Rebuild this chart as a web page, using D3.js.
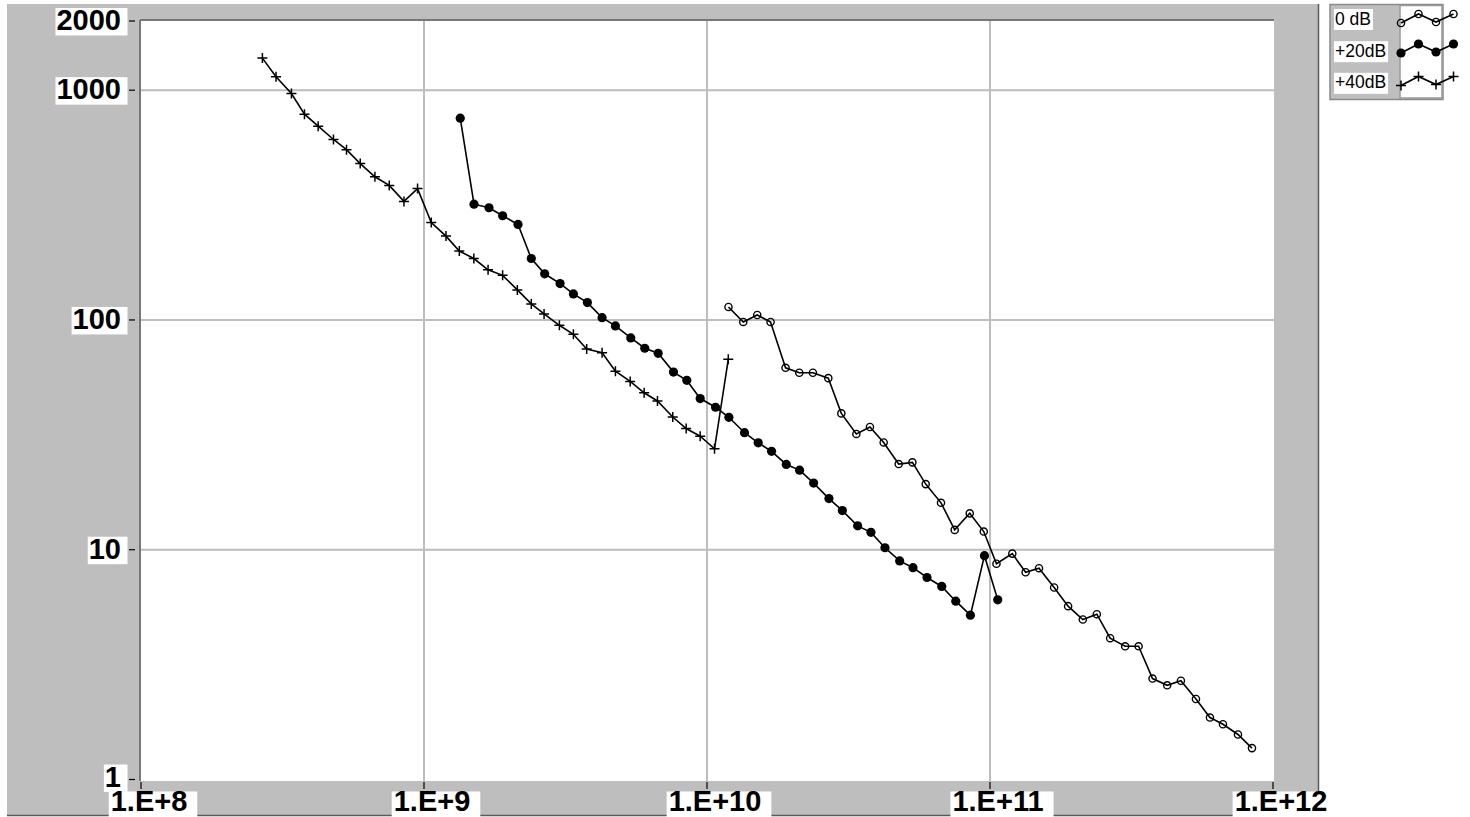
<!DOCTYPE html>
<html><head><meta charset="utf-8">
<script src="https://cdn.jsdelivr.net/npm/d3@7"></script>
<style>
html,body{margin:0;padding:0;background:#fff;}
svg{display:block;font-family:"Liberation Sans",Arial,Helvetica,sans-serif;}
</style>
</head><body>
<svg id="chart" width="1470" height="817"></svg>
<script>
// ---------- data ----------
const seriesNames = ["0 dB", "+20dB", "+40dB"];
const xTickValues = [1e8, 1e9, 1e10, 1e11, 1e12];
const xTickLabels = ["1.E+8", "1.E+9", "1.E+10", "1.E+11", "1.E+12"];
const yTickValues = [1, 10, 100, 1000, 2000];
const yTickLabels = ["1", "10", "100", "1000", "2000"];

const x0dB = [1.191e10, 1.343e10, 1.505e10, 1.677e10, 1.895e10, 2.119e10, 2.367e10, 2.683e10, 2.983e10, 3.371e10,
  3.765e10, 4.210e10, 4.757e10, 5.318e10, 5.927e10, 6.712e10, 7.504e10, 8.480e10, 9.504e10, 1.054e11,
  1.199e11, 1.336e11, 1.490e11, 1.685e11, 1.888e11, 2.128e11, 2.385e11, 2.658e11, 3.003e11, 3.350e11,
  3.753e11, 4.227e11, 4.727e11, 5.342e11, 5.987e11, 6.656e11, 7.520e11, 8.428e11];
const y0dB = [113.9, 98.0, 105.1, 98.0, 61.9, 58.9, 58.9, 55.8, 39.2, 31.9,
  34.2, 29.3, 23.6, 24.0, 19.3, 16.0, 12.2, 14.4, 12.0, 8.69,
  9.62, 7.98, 8.31, 6.85, 5.68, 4.97, 5.24, 4.12, 3.80, 3.80,
  2.75, 2.57, 2.69, 2.24, 1.86, 1.74, 1.57, 1.37];

const x20dB = [1.343e9, 1.502e9, 1.697e9, 1.896e9, 2.149e9, 2.394e9, 2.669e9, 3.026e9, 3.372e9, 3.779e9,
  4.259e9, 4.747e9, 5.379e9, 6.026e9, 6.721e9, 7.612e9, 8.484e9, 9.460e9, 1.072e10, 1.195e10,
  1.357e10, 1.517e10, 1.691e10, 1.906e10, 2.124e10, 2.381e10, 2.697e10, 3.008e10, 3.406e10, 3.796e10,
  4.255e10, 4.796e10, 5.345e10, 5.990e10, 6.752e10, 7.568e10, 8.527e10, 9.559e10, 1.065e11];
const y20dB = [755, 318.9, 307.8, 284.1, 260.4, 185.1, 158.8, 144.0, 129.8, 119.0,
  102.3, 94.2, 83.5, 75.3, 71.6, 59.3, 54.6, 45.5, 41.7, 37.7,
  32.3, 29.2, 26.8, 23.5, 22.2, 19.5, 16.7, 14.8, 12.7, 11.9,
  10.2, 8.94, 8.35, 7.57, 6.92, 5.97, 5.19, 9.42, 6.05];

const x40dB = [2.685e8, 3.00e8, 3.401e8, 3.781e8, 4.227e8, 4.787e8, 5.323e8, 5.952e8, 6.708e8, 7.537e8,
  8.495e8, 9.489e8, 1.061e9, 1.196e9, 1.333e9, 1.500e9, 1.684e9, 1.896e9, 2.137e9, 2.394e9,
  2.656e9, 3.009e9, 3.372e9, 3.757e9, 4.259e9, 4.747e9, 5.353e9, 5.996e9, 6.683e9, 7.568e9,
  8.442e9, 9.460e9, 1.063e10, 1.189e10];
const y40dB = [1379, 1144, 967, 786, 697, 610, 551, 479, 420, 385,
  328, 373, 265.4, 231.7, 199.5, 185.1, 165.2, 156.4, 135.1, 117.4,
  106.2, 94.8, 86.6, 74.7, 72.0, 59.8, 54.0, 48.2, 44.4, 37.8,
  33.7, 31.2, 27.5, 67.4];

// ---------- chart ----------
const svg = d3.select("#chart");
const GRAY = "#bebebe";

// outer gray panel
svg.append("rect").attr("x", 7).attr("y", 4).attr("width", 1312).attr("height", 811).attr("fill", GRAY);
svg.append("line").attr("x1", 1318.5).attr("x2", 1318.5).attr("y1", 4).attr("y2", 816).attr("stroke", "#5a5a5a").attr("stroke-width", 1.5);
svg.append("line").attr("x1", 7).attr("x2", 1319).attr("y1", 815.5).attr("y2", 815.5).attr("stroke", "#5a5a5a").attr("stroke-width", 1.5);

const x = d3.scaleLog().domain([1e8, 1e12]).range([141, 1273]);
const y = d3.scaleLog().domain([1, 2000]).range([779.5, 21]);

const plotL = 140, plotR = 1274, plotT = 20, plotB = 781;
svg.append("rect").attr("x", plotL).attr("y", plotT).attr("width", plotR - plotL).attr("height", plotB - plotT).attr("fill", "#fff");

// grid lines
const grid = svg.append("g");
grid.selectAll("line.vx").data(xTickValues.filter(v => v > 1e8 && v < 1e12)).join("line")
  .attr("x1", d => x(d)).attr("x2", d => x(d)).attr("y1", plotT).attr("y2", plotB)
  .attr("stroke", "#bdbdbd").attr("stroke-width", 2);
grid.selectAll("line.hy").data(yTickValues.filter(v => v > 1 && v < 2000)).join("line")
  .attr("x1", plotL).attr("x2", plotR).attr("y1", d => y(d)).attr("y2", d => y(d))
  .attr("stroke", "#bdbdbd").attr("stroke-width", 2);

// frame (left & top darker)
svg.append("line").attr("x1", plotL).attr("x2", plotL).attr("y1", plotT).attr("y2", plotB).attr("stroke", "#777").attr("stroke-width", 2);
svg.append("line").attr("x1", plotL).attr("x2", plotR).attr("y1", plotT).attr("y2", plotT).attr("stroke", "#777").attr("stroke-width", 2);

// y axis ticks + labels
const yAx = svg.append("g");
yTickValues.forEach((v, i) => {
  const yy = y(v);
  const base = v === 1 ? yy + 7 : yy + 9;
  const t = yAx.append("text").attr("x", 121).attr("y", base).attr("text-anchor", "end")
    .attr("font-size", 29).attr("font-weight", "bold").attr("fill", "#000").text(yTickLabels[i]);
  const bb = t.node().getBBox();
  yAx.insert("rect", "text").attr("x", bb.x - 1).attr("y", base - 22).attr("width", 127.5 - (bb.x - 1)).attr("height", 27.5).attr("fill", "#fff");
  yAx.append("line").attr("x1", 129).attr("x2", 135).attr("y1", yy).attr("y2", yy).attr("stroke", "#000").attr("stroke-width", 1.2);
});

// x axis ticks + labels
const xAx = svg.append("g");
xTickValues.forEach((v, i) => {
  const xx = x(v);
  const t = xAx.append("text").attr("x", xx + 8).attr("y", 810.5).attr("text-anchor", "middle")
    .attr("font-size", 29).attr("font-weight", "bold").attr("fill", "#000").text(xTickLabels[i]);
  const bb = t.node().getBBox();
  xAx.insert("rect", "text").attr("x", bb.x - 2).attr("y", 791.5).attr("width", bb.width + 12).attr("height", 26).attr("fill", "#fff");
  xAx.append("line").attr("x1", xx).attr("x2", xx).attr("y1", plotB + 1).attr("y2", plotB + 8).attr("stroke", "#000").attr("stroke-width", 1.2);
});

// series
const series = [
  { name: seriesNames[0], xs: x0dB, ys: y0dB, marker: "open" },
  { name: seriesNames[1], xs: x20dB, ys: y20dB, marker: "filled" },
  { name: seriesNames[2], xs: x40dB, ys: y40dB, marker: "plus" }
];
const lineGen = d3.line().x(d => x(d[0])).y(d => y(d[1]));

function drawMarker(g, type, cx, cy) {
  if (type === "open") {
    g.append("circle").attr("cx", cx).attr("cy", cy).attr("r", 3.6).attr("fill", "none").attr("stroke", "#000").attr("stroke-width", 1.4);
  } else if (type === "filled") {
    g.append("circle").attr("cx", cx).attr("cy", cy).attr("r", 4.6).attr("fill", "#000");
  } else {
    g.append("path").attr("d", `M${cx - 5},${cy}H${cx + 5}M${cx},${cy - 5}V${cy + 5}`).attr("stroke", "#000").attr("stroke-width", 1.5).attr("fill", "none");
  }
}

const gS = svg.append("g");
series.forEach(s => {
  const pts = s.xs.map((xv, i) => [xv, s.ys[i]]);
  gS.append("path").datum(pts).attr("d", lineGen).attr("fill", "none").attr("stroke", "#000").attr("stroke-width", 1.6);
  const gm = gS.append("g");
  pts.forEach(p => drawMarker(gm, s.marker, x(p[0]), y(p[1])));
});

// legend
const lg = svg.append("g");
lg.append("rect").attr("x", 1330).attr("y", 4.5).attr("width", 113).attr("height", 95).attr("fill", GRAY).attr("stroke", "#8a8a8a").attr("stroke-width", 1.5);
lg.append("rect").attr("x", 1400).attr("y", 5.5).attr("width", 42).attr("height", 92.5).attr("fill", "#fff").attr("stroke", "#999").attr("stroke-width", 1.5);
const rowBase = [24.5, 56.7, 88.3];
const rowMid = [18.5, 48.5, 81];
const zig = [4.5, -4.5, 3.5, -4.5];
const zx = [1401, 1418.5, 1436, 1453.5];
series.forEach((s, i) => {
  const t = lg.append("text").attr("x", 1335).attr("y", rowBase[i]).attr("font-size", 17.5).attr("fill", "#000").text(s.name);
  const bb = t.node().getBBox();
  lg.insert("rect", "text").attr("x", 1334).attr("y", rowBase[i] - 15.5).attr("width", bb.x + bb.width + 2 - 1334).attr("height", 21).attr("fill", "#fff");
  const pts = zx.map((xx, k) => [xx, rowMid[i] + zig[k]]);
  lg.append("path").attr("d", d3.line()(pts)).attr("fill", "none").attr("stroke", "#000").attr("stroke-width", 1.6);
  pts.forEach(p => drawMarker(lg, s.marker, p[0], p[1]));
});
</script>
</body></html>
